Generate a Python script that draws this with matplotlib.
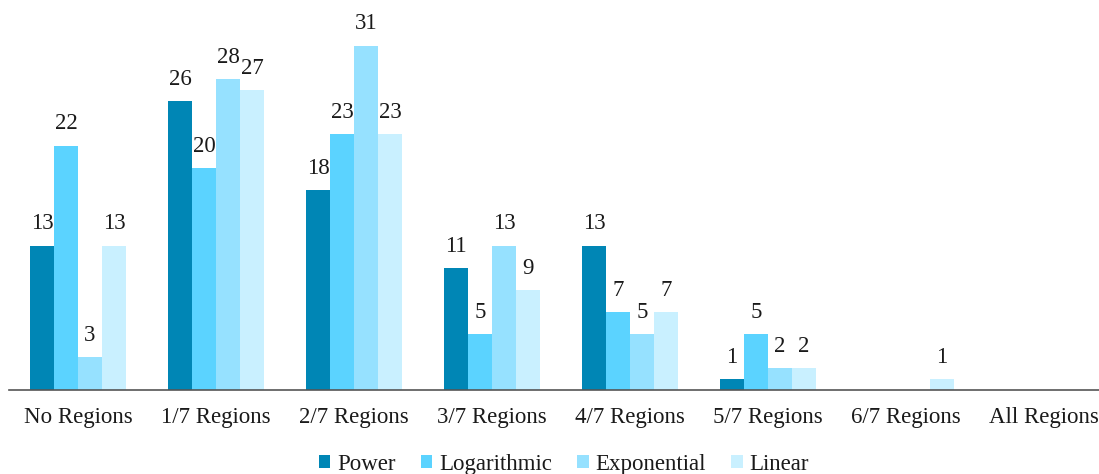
import matplotlib
matplotlib.use("Agg")
import matplotlib.pyplot as plt
import numpy as np

categories = ["No Regions", "1/7 Regions", "2/7 Regions", "3/7 Regions",
              "4/7 Regions", "5/7 Regions", "6/7 Regions", "All Regions"]
series_names = ["Power", "Logarithmic", "Exponential", "Linear"]
power = [13, 26, 18, 11, 13, 1, 0, 0]
logarithmic = [22, 20, 23, 5, 7, 5, 0, 0]
exponential = [3, 28, 31, 13, 5, 2, 0, 0]
linear = [13, 27, 23, 9, 7, 2, 1, 0]
colors = ["#0086B5", "#5BD3FF", "#96E1FF", "#C9F0FF"]

plt.rcParams["font.family"] = ["Liberation Serif", "DejaVu Serif"]

fig = plt.figure(figsize=(10.99, 4.74), dpi=100)
ax = fig.add_axes([9 / 1099, 84 / 474, 1 - 9 / 1099, 390 / 474])

x = np.arange(len(categories))
n = len(series_names)
width = 0.174
for i, (name, vals, col) in enumerate(zip(series_names, [power, logarithmic, exponential, linear], colors)):
    offs = (i - (n - 1) / 2) * width
    ax.bar(x + offs, vals, width, color=col, label=name)
    for xi, v in zip(x + offs, vals):
        if v > 0:
            ax.text(xi, v + 1.0, str(v), ha="center", va="bottom", fontsize=16.5, color="#1a1a1a")

ax.set_xlim(-0.5, 7.4)
ax.set_ylim(0, 35.1)
ax.set_xticks(x)
ax.set_xticklabels(categories, fontsize=16.5, color="#1a1a1a")
ax.tick_params(axis="x", length=0, pad=12)
ax.set_yticks([])
for s in ["top", "right", "left"]:
    ax.spines[s].set_visible(False)
ax.spines["bottom"].set_color("#555555")
ax.spines["bottom"].set_linewidth(1.2)

leg = fig.legend(loc="lower center", bbox_to_anchor=(0.513, -0.045), ncol=4, frameon=False,
                 fontsize=16.5, handlelength=0.5, handleheight=0.5, handletextpad=0.3,
                 columnspacing=1.1)
for t in leg.get_texts():
    t.set_color("#1a1a1a")

fig.savefig("out.png", dpi=100)
